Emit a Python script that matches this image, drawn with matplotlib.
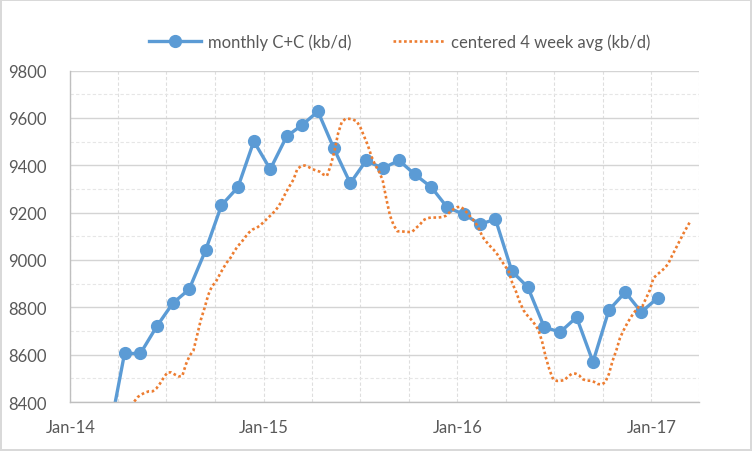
import matplotlib
matplotlib.use("Agg")
import matplotlib.pyplot as plt
import matplotlib.dates as mdates
import pandas as pd

# monthly C+C output, Mar-14 .. Jan-17 (kb/d)
month_start = "2014-03-01"
monthly_cc = [
    8240, 8605, 8605, 8720, 8817, 8876, 9041, 9231, 9307, 9501,
    9383, 9522, 9568, 9627, 9471, 9324, 9420, 9387, 9420, 9361, 9307, 9222,
    9193, 9151, 9172, 8952, 8885, 8716, 8695, 8758, 8569, 8788, 8864, 8780,
    8839,
]

# centered 4 week average, weekly from late Apr-14 (kb/d)
week_start = "2014-04-24"
weekly_avg = [
    8387, 8401, 8421, 8432, 8440, 8445, 8445, 8457, 8478, 8503,
    8525, 8525, 8516, 8508, 8510, 8560, 8596, 8617, 8683, 8747,
    8797, 8852, 8889, 8906, 8936, 8964, 8989, 9009, 9036, 9059,
    9076, 9097, 9116, 9129, 9135, 9146, 9161, 9176, 9191, 9207,
    9227, 9256, 9287, 9314, 9340, 9384, 9396, 9399, 9393, 9384,
    9378, 9373, 9361, 9355, 9399, 9458, 9534, 9583, 9596, 9596,
    9593, 9586, 9560, 9523, 9485, 9437, 9401, 9374, 9338, 9258,
    9187, 9146, 9121, 9121, 9119, 9118, 9119, 9135, 9148, 9168,
    9176, 9179, 9179, 9179, 9181, 9186, 9200, 9213, 9222, 9225,
    9213, 9195, 9176, 9159, 9130, 9096, 9076, 9058, 9042, 9022,
    8997, 8975, 8951, 8900, 8865, 8821, 8787, 8766, 8749, 8729,
    8704, 8655, 8588, 8535, 8495, 8489, 8490, 8492, 8508, 8519,
    8520, 8512, 8496, 8490, 8490, 8485, 8476, 8474, 8483, 8518,
    8574, 8618, 8671, 8704, 8734, 8760, 8782, 8801, 8804, 8837,
    8871, 8923, 8938, 8951, 8965, 8984, 9017, 9048, 9078, 9109,
    9137, 9165,
]

y_ticks = list(range(8400, 9801, 200))

text_color = "#595959"
plt.rcParams["font.family"] = ["Lato", "DejaVu Sans"]

fig = plt.figure(figsize=(7.52, 4.52), dpi=100)
fig.patch.set_edgecolor("#d9d9d9")
fig.patch.set_linewidth(1.5)
ax = fig.add_axes([0.0937, 0.1084, 0.8358, 0.7334])

x_month = pd.date_range(month_start, periods=len(monthly_cc), freq="MS") + pd.Timedelta(days=12)
x_week = pd.date_range(week_start, periods=len(weekly_avg), freq="7D")

line_m, = ax.plot(x_month, monthly_cc, color="#5b9bd5", lw=2.4, marker="o",
                  ms=8.5, label="monthly C+C (kb/d)", zorder=2)
line_w, = ax.plot(x_week, weekly_avg, color="#ed7d31", lw=1.9, ls=(0, (1, 1.0)),
                  label="centered 4 week avg (kb/d)", zorder=3)

ax.set_ylim(8400, 9800)
ax.set_yticks(y_ticks)
ax.set_yticks(range(8500, 9800, 200), minor=True)
ax.set_xlim(pd.Timestamp("2014-01-01"), pd.Timestamp("2017-04-01"))
ax.xaxis.set_major_locator(mdates.YearLocator())
ax.xaxis.set_major_formatter(mdates.DateFormatter("%b-%y"))
ax.xaxis.set_minor_locator(mdates.MonthLocator(bymonth=[1, 4, 7, 10]))

ax.grid(which="major", axis="y", color="#d4d4d4", lw=1)
ax.grid(which="minor", axis="y", color="#e6e6e6", lw=0.8, ls=(0, (3, 2)))
ax.grid(which="both", axis="x", color="#dedede", lw=0.8, ls=(0, (3, 2)))
ax.set_axisbelow(True)

for side in ("top", "right"):
    ax.spines[side].set_visible(False)
for side in ("left", "bottom"):
    ax.spines[side].set_color("#bfbfbf")
    ax.spines[side].set_linewidth(1)

ax.tick_params(which="both", length=0, labelsize=12, colors=text_color)
ax.tick_params(axis="y", pad=17)
ax.tick_params(axis="x", pad=12)

fig.legend(handles=[line_m, line_w], loc="center",
           bbox_to_anchor=(400 / 752, 1 - 43 / 452), ncol=2, frameon=False,
           fontsize=12, labelcolor=text_color, handlelength=3.1,
           handletextpad=0.4, columnspacing=2.5)

fig.savefig("out.png", dpi=100, edgecolor=fig.get_edgecolor())
